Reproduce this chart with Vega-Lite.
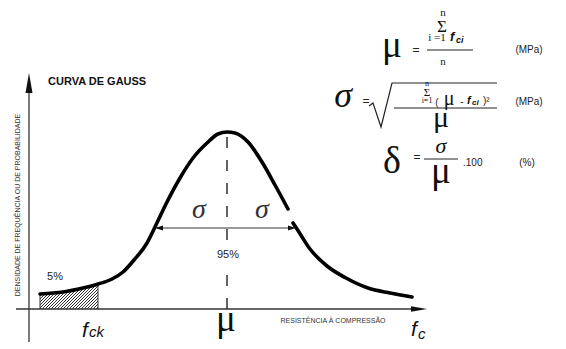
{
  "$schema": "https://vega.github.io/schema/vega-lite/v6.json",
  "width": 566,
  "height": 349,
  "autosize": {"type": "none"},
  "padding": 0,
  "background": "white",
  "config": {"view": {"stroke": null}},
  "encoding": {
    "x": {"field": "x", "type": "quantitative", "scale": {"domain": [0, 566], "nice": false, "zero": false}, "axis": null},
    "y": {"field": "y", "type": "quantitative", "scale": {"domain": [-40, 309], "nice": false, "zero": false}, "axis": null}
  },
  "layer": [
    {
      "data": {"values": [
        {"x": 40, "y": 13, "x2": 42.2, "y2": 15.2},
        {"x": 40, "y": 10, "x2": 45.5, "y2": 15.5},
        {"x": 40, "y": 7, "x2": 48.8, "y2": 15.8},
        {"x": 40, "y": 4, "x2": 52, "y2": 16},
        {"x": 40, "y": 1, "x2": 55.3, "y2": 16.3},
        {"x": 42, "y": 0, "x2": 58.6, "y2": 16.6},
        {"x": 45, "y": 0, "x2": 61.9, "y2": 16.9},
        {"x": 48, "y": 0, "x2": 65.5, "y2": 17.5},
        {"x": 51, "y": 0, "x2": 69.3, "y2": 18.3},
        {"x": 54, "y": 0, "x2": 73, "y2": 19},
        {"x": 57, "y": 0, "x2": 76.8, "y2": 19.8},
        {"x": 60, "y": 0, "x2": 80.5, "y2": 20.5},
        {"x": 63, "y": 0, "x2": 84.4, "y2": 21.4},
        {"x": 66, "y": 0, "x2": 88.5, "y2": 22.5},
        {"x": 69, "y": 0, "x2": 92.6, "y2": 23.6},
        {"x": 72, "y": 0, "x2": 96.7, "y2": 24.7},
        {"x": 75, "y": 0, "x2": 98, "y2": 23},
        {"x": 78, "y": 0, "x2": 98, "y2": 20},
        {"x": 81, "y": 0, "x2": 98, "y2": 17},
        {"x": 84, "y": 0, "x2": 98, "y2": 14},
        {"x": 87, "y": 0, "x2": 98, "y2": 11},
        {"x": 90, "y": 0, "x2": 98, "y2": 8},
        {"x": 93, "y": 0, "x2": 98, "y2": 5},
        {"x": 96, "y": 0, "x2": 98, "y2": 2},
        {"x": 40, "y": 0, "x2": 40, "y2": 15},
        {"x": 98, "y": 0, "x2": 98, "y2": 25}
      ]},
      "mark": {"type": "rule", "color": "#333", "strokeWidth": 1},
      "encoding": {"x2": {"field": "x2"}, "y2": {"field": "y2"}}
    },
    {
      "data": {"values": [
        {"x": 29, "y": -33, "x2": 29, "y2": 222},
        {"x": 16, "y": 0, "x2": 414, "y2": 0}
      ]},
      "mark": {"type": "rule", "color": "#333", "strokeWidth": 1.3},
      "encoding": {"x2": {"field": "x2"}, "y2": {"field": "y2"}}
    },
    {
      "data": {"values": [{"x": 29, "y": 226}]},
      "mark": {"type": "point", "shape": "M0,-1L0.35,1L-0.35,1Z", "size": 400, "filled": true, "color": "#111", "opacity": 1, "strokeWidth": 0}
    },
    {
      "data": {"values": [{"x": 419, "y": 0}]},
      "mark": {"type": "point", "shape": "M1,0L-1,-0.35L-1,0.35Z", "size": 256, "filled": true, "color": "#111", "opacity": 1, "strokeWidth": 0}
    },
    {
      "data": {"values": [
        {"seg": "a", "x": 40, "y": 15},
        {"seg": "a", "x": 63, "y": 17},
        {"seg": "a", "x": 83, "y": 21},
        {"seg": "a", "x": 98, "y": 25},
        {"seg": "a", "x": 112, "y": 30},
        {"seg": "a", "x": 123, "y": 37},
        {"seg": "a", "x": 134, "y": 49},
        {"seg": "a", "x": 147, "y": 66},
        {"seg": "a", "x": 155, "y": 82},
        {"seg": "a", "x": 167, "y": 107},
        {"seg": "a", "x": 180, "y": 131},
        {"seg": "a", "x": 193, "y": 151},
        {"seg": "a", "x": 207, "y": 166},
        {"seg": "a", "x": 218, "y": 175},
        {"seg": "a", "x": 227, "y": 177},
        {"seg": "a", "x": 235, "y": 176},
        {"seg": "a", "x": 248, "y": 167},
        {"seg": "a", "x": 262, "y": 147},
        {"seg": "a", "x": 275, "y": 124},
        {"seg": "a", "x": 288, "y": 100},
        {"seg": "b", "x": 293, "y": 86},
        {"seg": "b", "x": 297, "y": 80},
        {"seg": "b", "x": 310, "y": 60},
        {"seg": "b", "x": 327, "y": 43},
        {"seg": "b", "x": 346, "y": 31},
        {"seg": "b", "x": 368, "y": 21},
        {"seg": "b", "x": 390, "y": 16},
        {"seg": "b", "x": 412, "y": 12}
      ]},
      "mark": {"type": "line", "color": "black", "strokeWidth": 3.6, "interpolate": "monotone", "strokeCap": "round"},
      "encoding": {"detail": {"field": "seg"}}
    },
    {
      "data": {"values": [
        {"x": 227, "y": 0, "y2": 45},
        {"x": 227, "y": 69, "y2": 177}
      ]},
      "mark": {"type": "rule", "color": "#222", "strokeWidth": 1.4, "strokeDash": [11, 12]},
      "encoding": {"y2": {"field": "y2"}}
    },
    {
      "data": {"values": [{"x": 157, "x2": 293, "y": 81}]},
      "mark": {"type": "rule", "color": "#333", "strokeWidth": 1.2},
      "encoding": {"x2": {"field": "x2"}}
    },
    {
      "data": {"values": [{"x": 159, "y": 81}]},
      "mark": {"type": "point", "shape": "M-1,0L1,-0.6L1,0.6Z", "size": 64, "filled": true, "color": "#111", "opacity": 1, "strokeWidth": 0}
    },
    {
      "data": {"values": [{"x": 292, "y": 81}]},
      "mark": {"type": "point", "shape": "M1,0L-1,-0.6L-1,0.6Z", "size": 64, "filled": true, "color": "#111", "opacity": 1, "strokeWidth": 0}
    },
    {
      "data": {"values": [
        {"o": 1, "x": 369, "y": 203},
        {"o": 2, "x": 373, "y": 206},
        {"o": 3, "x": 381, "y": 182},
        {"o": 4, "x": 392, "y": 226},
        {"o": 5, "x": 497, "y": 226}
      ]},
      "mark": {"type": "line", "color": "#222", "strokeWidth": 1.2},
      "encoding": {"order": {"field": "o"}}
    },
    {
      "data": {"values": [
        {"x": 427, "x2": 473, "y": 259},
        {"x": 394, "x2": 497, "y": 201},
        {"x": 424, "x2": 458, "y": 150}
      ]},
      "mark": {"type": "rule", "color": "#222", "strokeWidth": 1},
      "encoding": {"x2": {"field": "x2"}}
    },
    {
      "data": {"values": [{"x": 48, "y": 227, "t": "CURVA DE GAUSS"}]},
      "mark": {"type": "text", "font": "Liberation Sans", "fontWeight": "bold", "fontSize": 11, "align": "left", "baseline": "middle", "color": "#111"},
      "encoding": {"text": {"field": "t"}}
    },
    {
      "data": {"values": [{"x": 18, "y": 104, "t": "DENSIDADE DE FREQUÊNCIA OU DE PROBABILIDADE"}]},
      "mark": {"type": "text", "font": "Liberation Sans", "fontSize": 7, "angle": 270, "align": "center", "baseline": "middle", "color": "#333"},
      "encoding": {"text": {"field": "t"}}
    },
    {
      "data": {"values": [{"x": 333, "y": -12, "t": "RESISTÊNCIA À COMPRESSÃO"}]},
      "mark": {"type": "text", "font": "Liberation Sans", "fontSize": 7, "align": "center", "baseline": "middle", "color": "#333"},
      "encoding": {"text": {"field": "t"}}
    },
    {
      "data": {"values": [{"x": 228, "y": 54, "t": "95%"}, {"x": 55, "y": 32, "t": "5%"}]},
      "mark": {"type": "text", "font": "Liberation Sans", "fontSize": 11, "align": "center", "baseline": "middle", "color": "#222"},
      "encoding": {"text": {"field": "t"}}
    },
    {
      "data": {"values": [{"x": 529, "y": 259, "t": "(MPa)"}, {"x": 529, "y": 207, "t": "(MPa)"}, {"x": 527, "y": 146, "t": "(%)"}]},
      "mark": {"type": "text", "font": "Liberation Sans", "fontSize": 10, "align": "center", "baseline": "middle", "color": "#222"},
      "encoding": {"text": {"field": "t"}}
    },
    {
      "data": {"values": [{"x": 416, "y": 259, "t": "="}, {"x": 366, "y": 208, "t": "="}, {"x": 417, "y": 152, "t": "="}]},
      "mark": {"type": "text", "font": "Liberation Sans", "fontSize": 12, "align": "center", "baseline": "middle", "color": "#222"},
      "encoding": {"text": {"field": "t"}}
    },
    {
      "data": {"values": [{"x": 463, "y": 146, "t": ".100"}]},
      "mark": {"type": "text", "font": "Liberation Sans", "fontSize": 10, "align": "left", "baseline": "middle", "color": "#222"},
      "encoding": {"text": {"field": "t"}}
    },
    {
      "data": {"values": [{"x": 437, "y": 206, "t": "("}, {"x": 462, "y": 207, "t": "-"}]},
      "mark": {"type": "text", "font": "Liberation Sans", "fontSize": 10, "align": "center", "baseline": "middle", "color": "#222"},
      "encoding": {"text": {"field": "t"}}
    },
    {
      "data": {"values": [{"x": 483, "y": 208, "t": ")²"}]},
      "mark": {"type": "text", "font": "Liberation Sans", "fontSize": 10, "align": "left", "baseline": "middle", "color": "#222"},
      "encoding": {"text": {"field": "t"}}
    },
    {
      "data": {"values": [{"x": 82, "y": -28, "t": "f"}, {"x": 411, "y": -27, "t": "f"}]},
      "mark": {"type": "text", "font": "Liberation Sans", "fontStyle": "italic", "fontSize": 21, "align": "left", "baseline": "alphabetic", "color": "#111"},
      "encoding": {"text": {"field": "t"}}
    },
    {
      "data": {"values": [{"x": 89, "y": -28, "t": "ck"}, {"x": 418, "y": -30, "t": "c"}]},
      "mark": {"type": "text", "font": "Liberation Sans", "fontStyle": "italic", "fontSize": 15, "align": "left", "baseline": "alphabetic", "color": "#111"},
      "encoding": {"text": {"field": "t"}}
    },
    {
      "data": {"values": [{"x": 450, "y": 272, "t": "f"}]},
      "mark": {"type": "text", "font": "Liberation Sans", "fontStyle": "italic", "fontWeight": "bold", "fontSize": 13, "align": "left", "baseline": "middle", "color": "#111"},
      "encoding": {"text": {"field": "t"}}
    },
    {
      "data": {"values": [{"x": 456, "y": 269, "t": "ci"}]},
      "mark": {"type": "text", "font": "Liberation Sans", "fontStyle": "italic", "fontWeight": "bold", "fontSize": 9, "align": "left", "baseline": "middle", "color": "#111"},
      "encoding": {"text": {"field": "t"}}
    },
    {
      "data": {"values": [{"x": 467, "y": 208, "t": "f"}]},
      "mark": {"type": "text", "font": "Liberation Sans", "fontStyle": "italic", "fontWeight": "bold", "fontSize": 11, "align": "left", "baseline": "middle", "color": "#111"},
      "encoding": {"text": {"field": "t"}}
    },
    {
      "data": {"values": [{"x": 472, "y": 206, "t": "ci"}]},
      "mark": {"type": "text", "font": "Liberation Sans", "fontStyle": "italic", "fontWeight": "bold", "fontSize": 8, "align": "left", "baseline": "middle", "color": "#111"},
      "encoding": {"text": {"field": "t"}}
    },
    {
      "data": {"values": [{"x": 226, "y": -22, "t": "μ"}, {"x": 392, "y": 252, "t": "μ"}, {"x": 441, "y": 126, "t": "μ"}]},
      "mark": {"type": "text", "font": "Liberation Serif", "fontSize": 37, "align": "center", "baseline": "alphabetic", "color": "#111"},
      "encoding": {"text": {"field": "t"}}
    },
    {
      "data": {"values": [{"x": 441, "y": 182, "t": "μ"}]},
      "mark": {"type": "text", "font": "Liberation Serif", "fontSize": 30, "align": "center", "baseline": "alphabetic", "color": "#111"},
      "encoding": {"text": {"field": "t"}}
    },
    {
      "data": {"values": [{"x": 449, "y": 204, "t": "μ"}]},
      "mark": {"type": "text", "font": "Liberation Serif", "fontSize": 20, "align": "center", "baseline": "alphabetic", "color": "#111"},
      "encoding": {"text": {"field": "t"}}
    },
    {
      "data": {"values": [{"x": 392, "y": 136, "t": "δ"}]},
      "mark": {"type": "text", "font": "Liberation Serif", "fontSize": 38, "align": "center", "baseline": "alphabetic", "color": "#111"},
      "encoding": {"text": {"field": "t"}}
    },
    {
      "data": {"values": [{"x": 443, "y": 296, "t": "n"}, {"x": 437, "y": 271, "t": "i =1"}, {"x": 443, "y": 247, "t": "n"}]},
      "mark": {"type": "text", "font": "Liberation Serif", "fontSize": 11, "align": "center", "baseline": "middle", "color": "#111"},
      "encoding": {"text": {"field": "t"}}
    },
    {
      "data": {"values": [{"x": 442, "y": 282, "t": "Σ"}]},
      "mark": {"type": "text", "font": "Liberation Serif", "fontSize": 17, "align": "center", "baseline": "middle", "color": "#111"},
      "encoding": {"text": {"field": "t"}}
    },
    {
      "data": {"values": [{"x": 427, "y": 225, "t": "n"}, {"x": 427, "y": 208, "t": "i=1"}]},
      "mark": {"type": "text", "font": "Liberation Serif", "fontSize": 8, "align": "center", "baseline": "middle", "color": "#111"},
      "encoding": {"text": {"field": "t"}}
    },
    {
      "data": {"values": [{"x": 427, "y": 216, "t": "Σ"}]},
      "mark": {"type": "text", "font": "Liberation Serif", "fontSize": 11, "align": "center", "baseline": "middle", "color": "#111"},
      "encoding": {"text": {"field": "t"}}
    },
    {
      "data": {"values": [{"x": 199, "y": 91, "t": "σ"}, {"x": 262, "y": 91, "t": "σ"}]},
      "mark": {"type": "text", "font": "Liberation Serif", "fontStyle": "italic", "fontSize": 28, "align": "center", "baseline": "alphabetic", "color": "#333"},
      "encoding": {"text": {"field": "t"}}
    },
    {
      "data": {"values": [{"x": 343, "y": 202, "t": "σ"}]},
      "mark": {"type": "text", "font": "Liberation Serif", "fontStyle": "italic", "fontSize": 36, "align": "center", "baseline": "alphabetic", "color": "#111"},
      "encoding": {"text": {"field": "t"}}
    },
    {
      "data": {"values": [{"x": 441, "y": 156, "t": "σ"}]},
      "mark": {"type": "text", "font": "Liberation Serif", "fontStyle": "italic", "fontSize": 22, "align": "center", "baseline": "alphabetic", "color": "#111"},
      "encoding": {"text": {"field": "t"}}
    }
  ]
}
